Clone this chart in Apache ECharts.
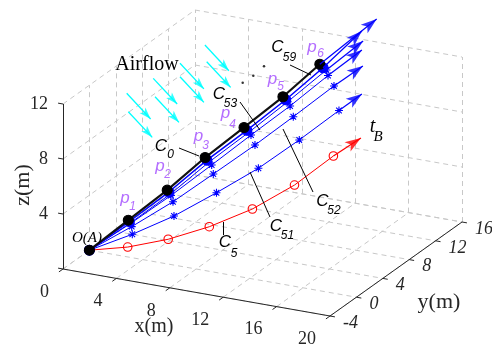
<!DOCTYPE html>
<html>
<head>
<meta charset="utf-8">
<script src="https://cdn.jsdelivr.net/npm/echarts@6/dist/echarts.min.js"></script>
<style>
html, body { margin: 0; padding: 0; background: #fff; }
#main { width: 492px; height: 349px; }
</style>
</head>
<body>
<div id="main"></div>
<script>
// axis ticks (m)
const xTicks = [0, 4, 8, 12, 16, 20];
const yTicks = [-4, 0, 4, 8, 12, 16];
const zTicks = [0, 4, 8, 12];

// trajectories from O(A): O, p1..p6. They lie in the plane y = x,
// so the x array is also the y array.
const c0X  = [0, 1.95, 3.9, 5.8, 7.75, 9.7, 11.55];
const c0Z  = [0, 1.85, 3.7, 5.75, 7.6, 9.5, 11.55];
const c59X = [0, 2.0, 3.98, 5.89, 7.89, 9.84, 11.71];
const c59Z = [0, 1.75, 3.55, 5.54, 7.37, 9.26, 11.27];
const c53X = [0, 2.05, 4.06, 5.99, 7.99, 9.94, 11.88];
const c53Z = [0, 1.63, 3.39, 5.38, 7.21, 9.1, 11.08];
const c54X = [0, 2.06, 4.09, 6.13, 8.1, 10.06, 11.96];
const c54Z = [0, 1.59, 3.28, 5.15, 6.99, 8.77, 10.66];
const c52X = [0, 2.12, 4.19, 6.21, 8.3, 10.22, 12.26];
const c52Z = [0, 1.35, 2.81, 4.48, 6.23, 7.96, 9.85];
const c51X = [0, 2.15, 4.24, 6.37, 8.47, 10.52, 12.51];
const c51Z = [0, 0.79, 1.76, 3.09, 4.51, 6.22, 8.02];
const c5X  = [0, 1.92, 3.95, 6.01, 8.17, 10.28, 12.23];
const c5Z  = [0, -0.1, 0.12, 0.68, 1.6, 2.98, 4.76];

// arrow tips, order: c0, c59, c53, c54, c52, c51, c5
const tipX = [14.4, 13.66, 13.72, 13.66, 13.71, 13.66, 13.61];
const tipZ = [14.35, 13.61, 12.87, 12.23, 11.05, 9.03, 5.83];

// airflow arrows (start points in plane y = x) and wind vector
const airX = [1.87, 1.95, 3.2, 3.29, 4.54, 4.54, 5.79, 5.88];
const airZ = [11.09, 9.74, 11.95, 10.6, 12.82, 11.84, 13.93, 12.7];
const wind = [1.2, 1.2, -2.07];

// view: screen position of (xmin, ymin, zmin) and screen step per unit
const ORG = [63, 269];
const EX = [13.35, 2.35], EY = [6.6, -4.7], EZ = [0, -13.75];

const X0 = xTicks[0], X1 = xTicks[xTicks.length - 1];
const Y0 = yTicks[0], Y1 = yTicks[yTicks.length - 1];
const Z0 = zTicks[0], Z1 = zTicks[zTicks.length - 1];

function proj(x, y, z) {
    const u = y - Y0;
    return [ORG[0] + x * EX[0] + u * EY[0] + z * EZ[0],
            ORG[1] + x * EX[1] + u * EY[1] + z * EZ[1]];
}
function unit(v) { const l = Math.hypot(v[0], v[1]); return [v[0] / l, v[1] / l]; }

const SERIF = '"Liberation Serif", "Times New Roman", serif';
const SANS = '"Liberation Sans", Arial, sans-serif';
const BLUE = '#0000ff', RED = '#ff0000', CYAN = '#00ffff', PURPLE = '#b46eff', AX = '#262626';

// grid lines on floor, back wall (y=max) and left wall (x=min)
const gridLines = [];
xTicks.forEach(x => {
    gridLines.push({ coords: [proj(x, Y0, Z0), proj(x, Y1, Z0)] });
    gridLines.push({ coords: [proj(x, Y1, Z0), proj(x, Y1, Z1)] });
});
yTicks.forEach(y => {
    gridLines.push({ coords: [proj(X0, y, Z0), proj(X1, y, Z0)] });
    gridLines.push({ coords: [proj(X0, y, Z0), proj(X0, y, Z1)] });
});
zTicks.forEach(z => {
    gridLines.push({ coords: [proj(X0, Y1, z), proj(X1, Y1, z)] });
    gridLines.push({ coords: [proj(X0, Y0, z), proj(X0, Y1, z)] });
});

// axis lines and ticks
const axisLines = [
    { coords: [proj(X0, Y0, Z0), proj(X1, Y0, Z0)] },
    { coords: [proj(X1, Y0, Z0), proj(X1, Y1, Z0)] },
    { coords: [proj(X0, Y0, Z0), proj(X0, Y0, Z1)] }
];
const TL = 5;
const dX = unit([-EY[0], -EY[1]]), dY = unit(EX), dZ = unit([-EX[0], -EX[1]]);
xTicks.forEach(x => { const p = proj(x, Y0, Z0); axisLines.push({ coords: [p, [p[0] + dX[0] * TL, p[1] + dX[1] * TL]] }); });
yTicks.forEach(y => { const p = proj(X1, y, Z0); axisLines.push({ coords: [p, [p[0] + dY[0] * TL, p[1] + dY[1] * TL]] }); });
zTicks.forEach(z => { const p = proj(X0, Y0, z); axisLines.push({ coords: [p, [p[0] + dZ[0] * TL, p[1] + dZ[1] * TL]] }); });

// tick labels and texts
const graphics = [];
function txt(x, y, text, size, opt) {
    opt = opt || {};
    graphics.push({
        type: 'text', x: x, y: y, rotation: opt.rot || 0, silent: true, z: 100,
        style: {
            text: text, fontSize: size, fontFamily: opt.family || SERIF,
            fontStyle: opt.italic ? 'italic' : 'normal',
            fill: opt.color || '#000', align: opt.align || 'center', verticalAlign: 'middle'
        }
    });
}
xTicks.forEach(x => { const p = proj(x, Y0, Z0); txt(p[0] - 14, p[1] + 23, String(x), 18, { align: 'right', color: AX }); });
yTicks.forEach(y => { const p = proj(X1, y, Z0); txt(p[0] + 13, p[1] + 7, String(y), 18, { align: 'left', color: AX, italic: true }); });
zTicks.slice(1).forEach(z => { const p = proj(X0, Y0, z); txt(p[0] - 15, p[1], String(z), 18, { align: 'right', color: AX }); });
txt(154, 327, 'x(m)', 20, { color: AX });
txt(439, 302, 'y(m)', 22, { color: AX });
txt(23, 185, 'z(m)', 22, { color: AX, rot: Math.PI / 2 });

txt(147, 65, 'Airflow', 20);
txt(87, 238, 'O(A)', 15, { italic: true });
txt(372.5, 127, 't', 20, { italic: true });
txt(378, 137, 'B', 15, { italic: true });

const cLabels = [['0', 161, 146, 170.5, 155], ['53', 219, 94, 230.5, 104], ['59', 277.5, 47.5, 289.5, 57.5],
                 ['5', 225, 242.5, 234, 253.5], ['51', 276, 226, 287.5, 236], ['52', 322.5, 201, 334, 211]];
cLabels.forEach(c => {
    txt(c[1], c[2], 'C', 17, { family: SANS, italic: true });
    txt(c[3], c[4], c[0], 12, { family: SANS, italic: true });
});
const pLabels = [[125, 198, 132.5, 207], [160, 166, 167.5, 175], [198.5, 136, 205.5, 145.5],
                 [225.5, 113, 232.5, 125], [272.5, 79, 280.5, 87], [312, 47, 320.5, 53.5]];
pLabels.forEach((p, i) => {
    txt(p[0], p[1], 'p', 17, { family: SANS, italic: true, color: PURPLE });
    txt(p[2], p[3], String(i + 1), 12, { family: SANS, italic: true, color: PURPLE });
});

// annotation pointers and ellipsis dots (screen positions)
const pointerLines = [[[179, 148], [199, 156]], [[240, 102], [260, 130]], [[290, 65], [311, 75]],
                      [[283, 129], [313, 192]], [[250, 172], [270, 217]], [[223, 222], [223, 235]]];
const ellipsisDots = [[242.7, 82.7], [253.3, 75.7], [264, 66.3]];

const STAR = 'path://M5,0V10M0,5H10M1.5,1.5L8.5,8.5M8.5,1.5L1.5,8.5';
const HEAD = 'path://M0,0L5,14L0,10.5L-5,14Z';

const paths = [
    { xs: c5X, zs: c5Z, color: RED, lw: 1, symbol: 'circle', size: 8.5, fill: 'rgba(0,0,0,0)', border: RED },
    { xs: c51X, zs: c51Z, color: BLUE, lw: 1, symbol: STAR, size: 8, fill: 'rgba(0,0,0,0)', border: BLUE },
    { xs: c52X, zs: c52Z, color: BLUE, lw: 1, symbol: STAR, size: 8, fill: 'rgba(0,0,0,0)', border: BLUE },
    { xs: c54X, zs: c54Z, color: BLUE, lw: 1, symbol: STAR, size: 8, fill: 'rgba(0,0,0,0)', border: BLUE },
    { xs: c53X, zs: c53Z, color: BLUE, lw: 1, symbol: STAR, size: 8, fill: 'rgba(0,0,0,0)', border: BLUE },
    { xs: c59X, zs: c59Z, color: BLUE, lw: 1.5, symbol: 'circle', size: 10, fill: BLUE, border: BLUE },
    { xs: c0X, zs: c0Z, color: '#111', lw: 2.2, symbol: 'circle', size: 10, fill: '#000', border: '#000' }
];
const tipOrder = [c0X, c59X, c53X, c54X, c52X, c51X, c5X];
const tipZOrder = [c0Z, c59Z, c53Z, c54Z, c52Z, c51Z, c5Z];

const series = [
    { type: 'lines', coordinateSystem: 'cartesian2d', data: gridLines, silent: true, z: 1,
      lineStyle: { color: '#c8c8c8', width: 1, type: [5, 4], opacity: 1 } },
    { type: 'lines', coordinateSystem: 'cartesian2d', data: axisLines, silent: true, z: 2,
      lineStyle: { color: AX, width: 1, opacity: 1 } }
];

paths.forEach((p, i) => {
    series.push({
        type: 'line', z: 10 + i, silent: true, animation: false,
        data: p.xs.map((x, k) => proj(x, x, p.zs[k])),
        symbol: p.symbol, symbolSize: p.size, showAllSymbol: true,
        lineStyle: { color: p.color, width: p.lw },
        itemStyle: { color: p.fill, borderColor: p.border, borderWidth: 1.1 }
    });
});

// tip segments + arrowheads
const tipLines = [], heads = [];
tipOrder.forEach((xs, i) => {
    const n = xs.length - 1;
    const a = proj(xs[n], xs[n], tipZOrder[i][n]);
    const b = proj(tipX[i], tipX[i], tipZ[i]);
    const col = i === 6 ? RED : BLUE;
    tipLines.push({ coords: [a, b], lineStyle: { color: col } });
    const d = unit([b[0] - a[0], b[1] - a[1]]);
    const ang = Math.atan2(-d[1], d[0]) * 180 / Math.PI - 90;
    heads.push({ value: [b[0] - d[0] * 8, b[1] - d[1] * 8], symbolRotate: ang, itemStyle: { color: col } });
});
series.push({ type: 'lines', coordinateSystem: 'cartesian2d', data: tipLines, silent: true, z: 20,
              lineStyle: { width: 1.2, opacity: 1 } });
series.push({ type: 'scatter', data: heads, symbol: HEAD, symbolSize: [11, 16], silent: true, z: 21 });

// airflow arrows
const airLines = [], airHeads = [];
airX.forEach((x, i) => {
    const a = proj(x, x, airZ[i]);
    const b = proj(x + wind[0], x + wind[1], airZ[i] + wind[2]);
    airLines.push({ coords: [a, b] });
    const d = unit([b[0] - a[0], b[1] - a[1]]);
    const ang = Math.atan2(-d[1], d[0]) * 180 / Math.PI - 90;
    airHeads.push({ value: [b[0] - d[0] * 6, b[1] - d[1] * 6], symbolRotate: ang });
});
series.push({ type: 'lines', coordinateSystem: 'cartesian2d', data: airLines, silent: true, z: 5,
              lineStyle: { color: CYAN, width: 1.3, opacity: 1 } });
series.push({ type: 'scatter', data: airHeads, symbol: HEAD, symbolSize: [8, 12], silent: true, z: 6,
              itemStyle: { color: CYAN } });

// annotation pointers
series.push({ type: 'lines', coordinateSystem: 'cartesian2d', silent: true, z: 30,
              data: pointerLines.map(c => ({ coords: c })), lineStyle: { color: '#000', width: 1, opacity: 1 } });
series.push({ type: 'scatter', data: ellipsisDots, symbol: 'circle', symbolSize: 2.5, silent: true, z: 30,
              itemStyle: { color: '#000' } });

const chart = echarts.init(document.getElementById('main'));
chart.setOption({
    animation: false,
    backgroundColor: '#fff',
    grid: { left: 0, right: 0, top: 0, bottom: 0 },
    xAxis: { type: 'value', min: 0, max: 492, show: false },
    yAxis: { type: 'value', min: 0, max: 349, inverse: true, show: false },
    series: series,
    graphic: graphics
});
</script>
</body>
</html>
